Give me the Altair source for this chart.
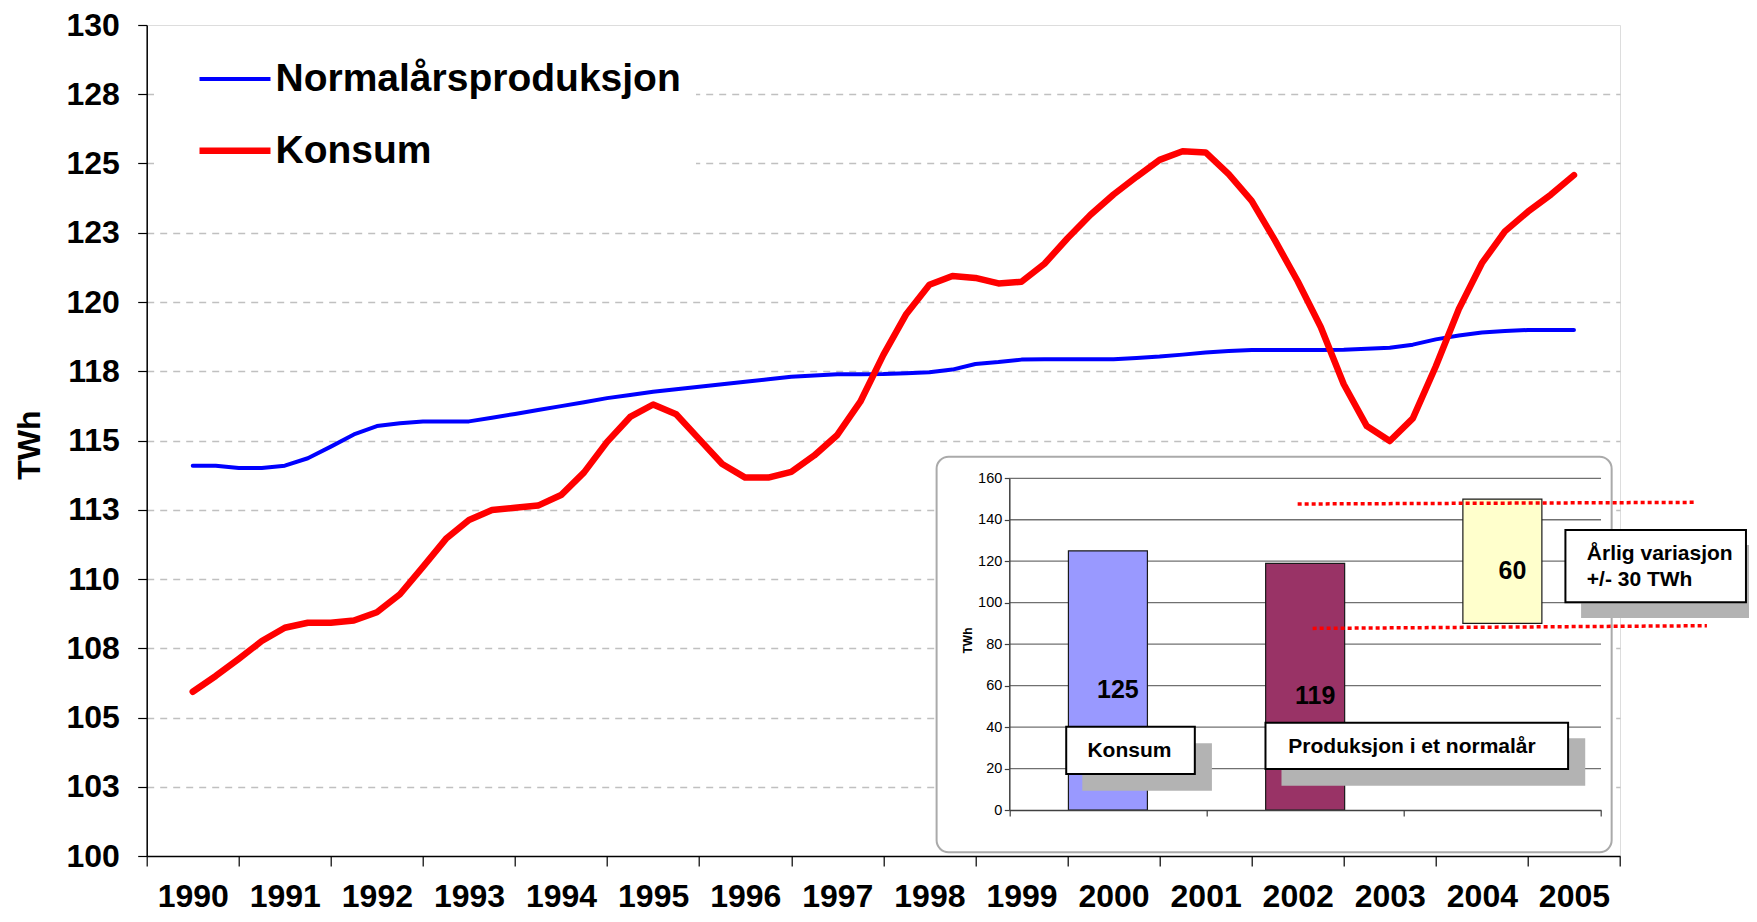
import altair as alt
import pandas as pd

# ---------------- data ----------------
quarters = [1990.0, 1990.25, 1990.5, 1990.75, 1991.0, 1991.25, 1991.5, 1991.75,
            1992.0, 1992.25, 1992.5, 1992.75, 1993.0, 1993.25, 1993.5, 1993.75,
            1994.0, 1994.25, 1994.5, 1994.75, 1995.0, 1995.25, 1995.5, 1995.75,
            1996.0, 1996.25, 1996.5, 1996.75, 1997.0, 1997.25, 1997.5, 1997.75,
            1998.0, 1998.25, 1998.5, 1998.75, 1999.0, 1999.25, 1999.5, 1999.75,
            2000.0, 2000.25, 2000.5, 2000.75, 2001.0, 2001.25, 2001.5, 2001.75,
            2002.0, 2002.25, 2002.5, 2002.75, 2003.0, 2003.25, 2003.5, 2003.75,
            2004.0, 2004.25, 2004.5, 2004.75, 2005.0]

normalar = [114.09, 114.09, 114.01, 114.01, 114.09,
            114.36, 114.78, 115.22, 115.52,
            115.62, 115.69, 115.69, 115.69,
            115.82, 115.96, 116.10, 116.24,
            116.38, 116.53, 116.64, 116.76,
            116.85, 116.94, 117.03, 117.12,
            117.21, 117.30, 117.35, 117.39,
            117.39, 117.40, 117.43, 117.46,
            117.56, 117.76, 117.83, 117.92,
            117.93, 117.93, 117.93, 117.93,
            117.98, 118.03, 118.10, 118.18,
            118.23, 118.27, 118.27, 118.27,
            118.27, 118.28, 118.31, 118.35,
            118.46, 118.65, 118.79, 118.90,
            118.95, 118.99, 118.99, 118.99]

konsum = [105.93, 106.50, 107.12, 107.76, 108.24,
          108.42, 108.42, 108.50, 108.80,
          109.45, 110.44, 111.45, 112.13,
          112.49, 112.57, 112.65, 113.03,
          113.85, 114.95, 115.85, 116.30,
          115.95, 115.05, 114.15, 113.66,
          113.66, 113.87, 114.46, 115.20,
          116.40, 118.09, 119.57, 120.62,
          120.94, 120.87, 120.67, 120.73,
          121.38, 122.30, 123.15, 123.88,
          124.52, 125.13, 125.44, 125.40,
          124.62, 123.65, 122.24, 120.75,
          119.10, 117.03, 115.52, 114.98,
          115.80, 117.68, 119.75, 121.40,
          122.55, 123.26, 123.88, 124.58]

series_names = ["Normalårsproduksjon", "Konsum"]
years = list(range(1990, 2006))
y_ticks = [100, 102.5, 105, 107.5, 110, 112.5, 115, 117.5, 120, 122.5, 125, 127.5, 130]

# inset bar chart
inset_cats = ["Konsum", "Produksjon i et normalår", "Årlig variasjon"]
inset_index = [0, 1, 2]
inset_low = [0, 0, 90]
inset_high = [125, 119, 150]
inset_ticks = [0, 20, 40, 60, 80, 100, 120, 140, 160]
box_texts_center = ["Konsum", "Produksjon i et normalår"]
box_texts_left = ["Årlig variasjon", "+/- 30 TWh"]

# ---------------- styles / layout ----------------
W, H = 1473.3, 831
PAD_TOP = 17
series_colors = ["#0000ff", "#ff0000"]
series_widths = [4, 6.5]
bar_colors = ["#9999ff", "#993366", "#ffffcc"]
FONT = "Liberation Sans"

IX = alt.Scale(domain=[-0.5, 2.5], range=[862.6, 1454.3], nice=False, zero=False, padding=0)
IY = alt.Scale(domain=[0, 160], range=[785, 453.3], nice=False, zero=False, padding=0)

# annotation geometry (in inset units)
frame_geo = dict(x1=[-0.8686], x2=[2.554], y1=[-20.4], y2=[170.4])
shadow_geo = dict(x1=[-0.1298, 0.880, 2.399], x2=[0.5273, 2.420, 3.40],
                  y1=[9.3, 11.7, 92.6], y2=[32.2, 34.6, 127.8])
box_geo = dict(x1=[-0.2114, 0.7989, 2.3196], x2=[0.4406, 2.3332, 3.235],
               y1=[17.4, 19.8, 100.2], y2=[40.2, 42.1, 135.1])
center_text_geo = dict(x=[0.109, 1.5418], y=[28.5, 30.5])
left_text_geo = dict(x=[2.428, 2.428], y=[123.3, 111.0])
dots_geo = dict(x1=[0.962, 1.038], x2=[2.972, 3.037], y1=[147.6, 87.6], y2=[148.4, 88.9])

# ---------------- main chart ----------------
main_df = pd.DataFrame({
    "t": quarters + quarters,
    "v": normalar + konsum,
    "serie": [series_names[0]] * len(quarters) + [series_names[1]] * len(quarters),
})

legend = alt.Legend(
    orient="none", legendX=7.3, legendY=1.5, title=None,
    symbolType="stroke", symbolSize=5041, symbolOffset=27,
    labelFontSize=39, labelFont=FONT, labelFontWeight="bold", labelColor="black",
    labelOffset=1.5, labelLimit=1000, padding=15, rowPadding=12.2,
    labelExpr="datum.label + '\u00a0\u00a0'",
    fillColor="white",
)

x_axis = alt.Axis(
    values=[y - 0.5 for y in years] + [years[-1] + 0.5],
    labelExpr="datum.value < 2005.4 ? format(datum.value + 0.5, 'd') : ''",
    labelOffset=46.04, labelFlush=False, labelOverlap=False, labelBound=False,
    labelFontSize=32, labelFontWeight="bold", labelColor="black", labelFont=FONT,
    labelBaseline="alphabetic", labelPadding=40,
    tickSize=10, tickColor="black", tickWidth=1.2,
    domainColor="black", domainWidth=1.5, grid=False, title=None,
)

y_axis = alt.Axis(
    values=y_ticks,
    labelExpr="format(round(datum.value), 'd')",
    labelFontSize=32, labelFontWeight="bold", labelColor="black", labelFont=FONT,
    labelPadding=18.4, tickSize=9, tickColor="black", tickWidth=1.2,
    domainColor="black", domainWidth=1.5,
    grid=True, gridColor="#c0c0c0", gridDash=[7, 6], gridWidth=1.3,
    gridOpacity={"condition": {"test": "datum.value >= 130 || datum.value <= 100", "value": 0}, "value": 1},
    title="TWh", titleFontSize=32, titleFontWeight="bold", titleColor="black", titleFont=FONT,
    titleX=-117.7, titleY=419.6, titleAngle=270, titleAlign="center", titleBaseline="middle",
)

main = alt.Chart(main_df).mark_line(strokeCap="round", strokeJoin="round").encode(
    x=alt.X("t:Q", scale=alt.Scale(domain=[1989.5, 2005.5], nice=False, zero=False), axis=x_axis),
    y=alt.Y("v:Q", scale=alt.Scale(domain=[100, 130], nice=False, zero=False), axis=y_axis),
    color=alt.Color("serie:N", scale=alt.Scale(domain=series_names, range=series_colors), legend=legend),
    strokeWidth=alt.StrokeWidth("serie:N", scale=alt.Scale(domain=series_names, range=series_widths), legend=legend),
)

# ---------------- inset ----------------
ix_axis = alt.Axis(orient="bottom", offset=-(H - 785), values=[-0.5, 0.5, 1.5, 2.5], labels=False,
                   tickSize=6, tickColor="#404040", tickWidth=1.2, domainColor="#404040",
                   domainWidth=1.5, grid=False, title=None, zindex=1)
iy_axis = alt.Axis(orient="left", offset=-862.6, values=inset_ticks,
                   labelFontSize=14.5, labelFont=FONT, labelFontWeight="normal", labelColor="black",
                   labelPadding=2.5, tickSize=5, tickColor="#404040", tickWidth=1.2,
                   domainColor="#404040", domainWidth=1.5, grid=False,
                   title="TWh", titleFontSize=12, titleFontWeight="bold", titleColor="black", titleFont=FONT,
                   titleX=-42.3, titleY=615, titleAngle=270, titleAlign="center", titleBaseline="middle",
                   zindex=1)


def X(f):
    return alt.X(f, type="quantitative", scale=IX, axis=ix_axis)


def Y(f):
    return alt.Y(f, type="quantitative", scale=IY, axis=iy_axis)


frame = alt.Chart(pd.DataFrame(frame_geo)).mark_rect(
    fill="white", stroke="#aaaaaa", strokeWidth=2, cornerRadius=12
).encode(x=X("x1"), x2="x2", y=Y("y1"), y2="y2")

grid_df = pd.DataFrame({"g": inset_ticks[1:], "a": [-0.5] * 8, "b": [2.5] * 8})
grid = alt.Chart(grid_df).mark_rule(color="#707070", strokeWidth=1.3).encode(
    x=X("a"), x2="b", y=Y("g"))

bars_df = pd.DataFrame({"idx": inset_index, "cat": inset_cats, "low": inset_low,
                        "high": inset_high, "col": bar_colors})
bars = alt.Chart(bars_df).mark_bar(width=79, stroke="#1a1a1a", strokeWidth=1.2).encode(
    x=X("idx"), y=Y("low"), y2="high", fill=alt.Fill("col:N", scale=None))

bar_labels = alt.Chart(bars_df).transform_calculate(
    mid="(datum.low + datum.high) / 2", val="datum.high - datum.low"
).mark_text(fontSize=25, fontWeight="bold", font=FONT, dx=10, dy=9.5, color="black").encode(
    x=X("idx"), y=Y("mid:Q"), text="val:Q")

dots = alt.Chart(pd.DataFrame(dots_geo)).mark_rule(
    color="#ff0000", strokeWidth=3.5, strokeDash=[4, 3]
).encode(x=X("x1"), x2="x2", y=Y("y1"), y2="y2")

shadows = alt.Chart(pd.DataFrame(shadow_geo)).mark_rect(fill="#b3b3b3").encode(
    x=X("x1"), x2="x2", y=Y("y1"), y2="y2")

boxes = alt.Chart(pd.DataFrame(box_geo)).mark_rect(
    fill="white", stroke="black", strokeWidth=2).encode(
    x=X("x1"), x2="x2", y=Y("y1"), y2="y2")

tc_df = pd.DataFrame({"txt": box_texts_center, **center_text_geo})
texts_c = alt.Chart(tc_df).mark_text(fontSize=21, fontWeight="bold", font=FONT, align="center",
                                     baseline="middle", color="black").encode(
    x=X("x"), y=Y("y"), text="txt:N")

tl_df = pd.DataFrame({"txt": box_texts_left, **left_text_geo})
texts_l = alt.Chart(tl_df).mark_text(fontSize=21, fontWeight="bold", font=FONT, align="left",
                                     baseline="middle", color="black").encode(
    x=X("x"), y=Y("y"), text="txt:N")

inset = alt.layer(frame, grid, bars, bar_labels, dots, shadows, boxes, texts_c, texts_l)

chart = alt.layer(main, inset).resolve_scale(
    x="independent", y="independent"
).properties(
    width=W, height=H,
    padding={"left": 138.7, "top": PAD_TOP, "right": 129, "bottom": 906 - PAD_TOP - H},
    autosize=alt.AutoSizeParams(type="none"),
).configure_view(stroke="black", strokeWidth=1).configure(font=FONT)

chart.save("out.html", embed_options={"renderer": "svg", "actions": False})
